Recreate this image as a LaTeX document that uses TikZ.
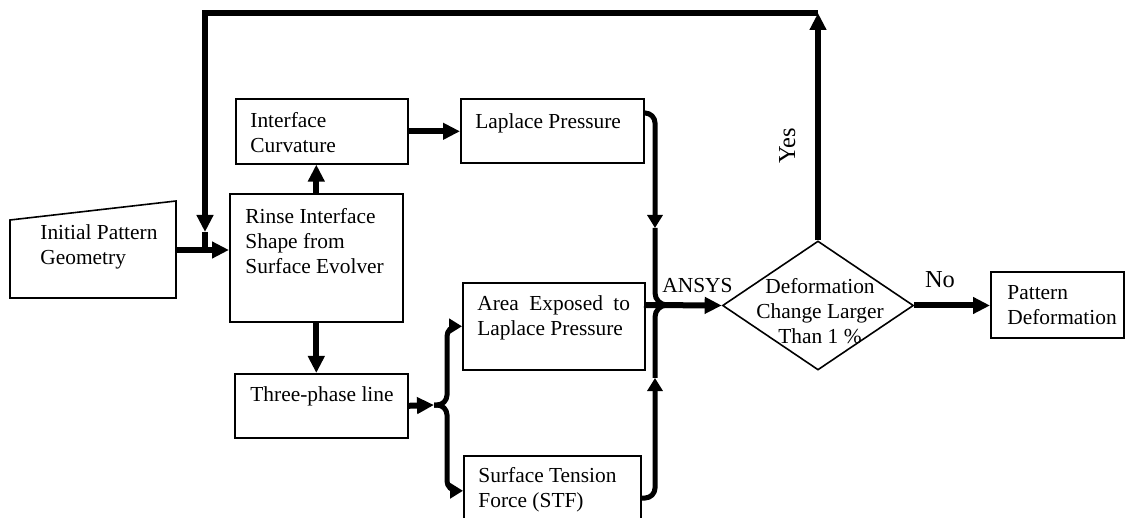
\documentclass[tikz,border=0pt]{standalone}
\usepackage{fontspec}
\setmainfont{Liberation Serif}
\usetikzlibrary{arrows.meta,shapes.geometric}

\tikzset{
  box/.style={draw,line width=0.8pt,inner sep=0pt,anchor=north west},
  decision/.style={diamond,draw,line width=0.8pt,inner sep=0pt,minimum width=95.5pt,minimum height=64.5pt},
  txt/.style={inner sep=0pt,anchor=north west,align=left,font=\fontsize{10.7}{12.5}\selectfont},
  ans/.style={inner sep=0pt,anchor=base,font=\fontsize{12.2}{14}\selectfont},
  flow/.style={line width=3pt},
  branch/.style={line width=2.5pt,>={Triangle[length=6.5pt,width=7.5pt]}}
}

\begin{document}
\begin{tikzpicture}[x=0.5pt,y=-0.5pt,>={Triangle[length=8.5pt,width=8pt]}]
  \useasboundingbox (0,0) rectangle (1125,518);
  \coordinate (I1) at (10,220);
  \coordinate (I2) at (176,201);
  \coordinate (I3) at (176,298);
  \coordinate (I4) at (10,298);
  \draw[line width=0.8pt] (I1)--(I2)--(I3)--(I4)--cycle;
  \node[txt] (initT) at (40,224) {Initial Pattern\\Geometry};
  \coordinate (initE) at (176,250);

  \node[box,minimum width=86.5pt,minimum height=64pt] (rinse) at (229,193) {};
  \node[txt] (rinseT) at (245,208) {Rinse Interface\\Shape from\\Surface Evolver};
  \node[box,minimum width=86pt,minimum height=32.5pt] (curv) at (235,98) {};
  \node[txt] (curvT) at (250,112) {Interface\\Curvature};
  \node[box,minimum width=91.5pt,minimum height=32pt] (lap) at (460,98) {};
  \node[txt] (lapT) at (475,113) {Laplace Pressure};
  \node[box,minimum width=91pt,minimum height=43.5pt] (area) at (462,282) {};
  \node[txt] (areaT) at (477,295) {Area\hspace{2.5pt} Exposed\hspace{2.5pt} to\\Laplace Pressure};
  \node[box,minimum width=86.5pt,minimum height=32pt] (three) at (234,373) {};
  \node[txt] (threeT) at (250,386) {Three-phase line};
  \node[box,minimum width=88.5pt,minimum height=35pt] (stf) at (463,455) {};
  \node[txt] (stfT) at (478,467) {Surface Tension\\Force (STF)};
  \node[decision] (dec) at (818,305.5) {};
  \node[txt,anchor=north,align=center] (decT) at (820,278) {Deformation\\Change Larger\\Than 1 \%};
  \node[box,minimum width=66.5pt,minimum height=33pt] (pat) at (990,271) {};
  \node[txt] (patT) at (1007,285) {Pattern\\Deformation};

  \coordinate (fbL) at (205,13);
  \coordinate (fbR) at (818,13);
  \coordinate (fbIn) at (205,232);
  \coordinate (fbJ) at (205,250);
  \coordinate (fork) at (434,405);
  \coordinate (forkX) at (447,405);
  \coordinate (lapO) at (643,113);
  \coordinate (mTop) at (655,228);
  \coordinate (stfO) at (640,498);
  \coordinate (mBot) at (655,378);
  \coordinate (mJ) at (672,305);
  \coordinate (areaO) at (644,305);

  \draw[flow,->] (initE) -- (initE -| rinse.west);
  \draw[flow,->] (dec.north) -- (fbR);
  \draw[flow,->] (fbR) -- (fbL) -- (fbIn);
  \draw[flow] (fbIn) -- (fbJ);
  \draw[flow,->] (rinse.north) -- (rinse.north |- curv.south);
  \draw[flow,->] (curv.east) -- (curv.east -| lap.west);
  \draw[flow,->] (rinse.south) -- (rinse.south |- three.north);
  \draw[flow,->] (three.east) -- (fork);
  \draw[branch,->,rounded corners=5pt] (fork) -- (forkX) |- (area.west);
  \draw[branch,->,rounded corners=5pt] (fork) -- (forkX) |- (stf.west);
  \draw[branch,->,rounded corners=5pt] (lapO) -| (mTop);
  \draw[branch,rounded corners=6pt] (mTop) |- (mJ);
  \draw[branch,->,rounded corners=5pt] (stfO) -| (mBot);
  \draw[branch,rounded corners=6pt] (mBot) |- (mJ);
  \draw[flow,->] (areaO) -- (dec.west);
  \draw[flow,->] (dec.east) -- (dec.east -| pat.west);

  \node[txt] (ansys) at (662,278) {ANSYS};
  \node[ans] (no) at (940,288) {No};
  \node[ans,rotate=90] (yes) at (795,146) {Yes};
\end{tikzpicture}
\end{document}
